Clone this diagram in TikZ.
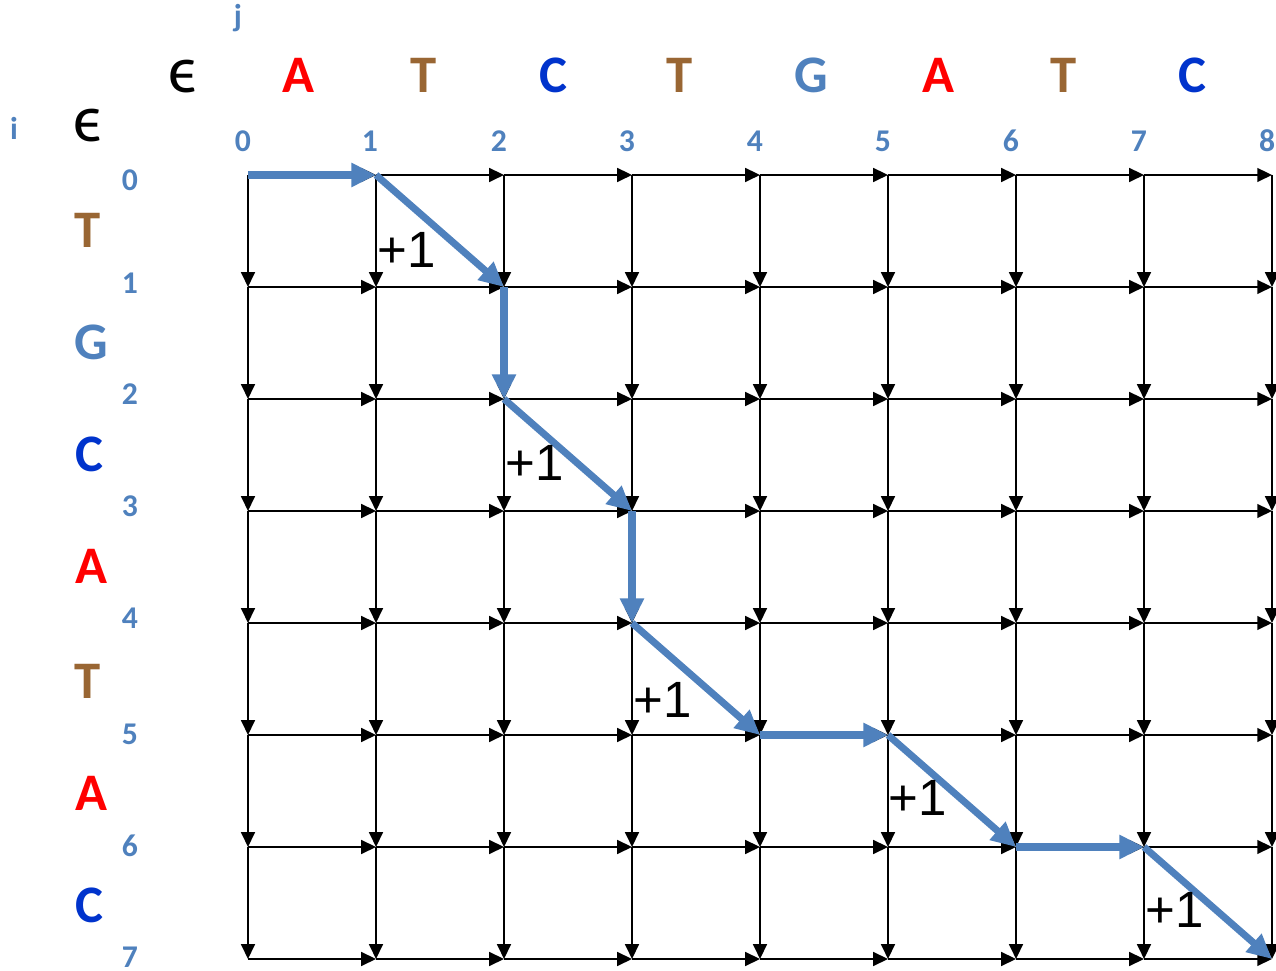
\documentclass[tikz,border=0pt]{standalone}
\usepackage{fontspec}
\setmainfont{Carlito}
\newfontfamily\arialf{Liberation Sans}
\usetikzlibrary{arrows.meta}
\definecolor{nucA}{HTML}{FF0000}
\definecolor{nucT}{HTML}{996633}
\definecolor{nucC}{HTML}{0033CC}
\definecolor{nucG}{HTML}{4F81BD}
\definecolor{idx}{HTML}{4F81BD}
\definecolor{pathblue}{HTML}{4F81BD}
\begin{document}
\begin{tikzpicture}[x=0.01cm,y=-0.01cm,
 base/.style={inner sep=0pt, outer sep=0pt},
 nuc/.style={base, font=\fontsize{15}{15}\selectfont\bfseries},
 idxlab/.style={base, text=idx, font=\fontsize{9}{9}\selectfont\bfseries},
 epslab/.style={base, font=\fontsize{19}{19}\selectfont},
 gain/.style={base, font=\fontsize{14.5}{14.5}\selectfont},
 edge/.style={line width=0.65pt, -{Triangle[length=4.2pt,width=3.9pt]}},
 pathedge/.style={line width=2pt, pathblue, -{Triangle[length=7pt,width=6.5pt]}}]
\useasboundingbox (0,0) rectangle (1276,971);
% grid points
\foreach \j in {0,...,8}{
  \foreach \i in {0,...,7}{
    \coordinate (p\j-\i) at ({248+128*\j},{175+112*\i});
  }
}
% horizontal edges
\foreach \j in {0,...,7}{
  \foreach \i in {0,...,7}{
    \pgfmathtruncatemacro\jn{\j+1}
    \draw[edge] (p\j-\i) -- (p\jn-\i);
  }
}
% vertical edges
\foreach \j in {0,...,8}{
  \foreach \i in {0,...,6}{
    \pgfmathtruncatemacro\inx{\i+1}
    \draw[edge] (p\j-\i) -- (p\j-\inx);
  }
}
% labels
\node[idxlab] (jlab) at (238,18) {j};
\node[idxlab] (ilab) at (14,128) {i};
\node[epslab] (epstop) at (183,77) {ϵ};
\node[epslab] (epsleft) at (88,126) {ϵ};
% top sequence
\node[nuc,text=nucA] (c1) at (298,75) {A};
\node[nuc,text=nucT] (c2) at (424,75) {T};
\node[nuc,text=nucC] (c3) at (553,75) {C};
\node[nuc,text=nucT] (c4) at (680,75) {T};
\node[nuc,text=nucG] (c5) at (811,75) {G};
\node[nuc,text=nucA] (c6) at (938,75) {A};
\node[nuc,text=nucT] (c7) at (1064,75) {T};
\node[nuc,text=nucC] (c8) at (1192,75) {C};
% left sequence
\node[nuc,text=nucT] (r1) at (88,230) {T};
\node[nuc,text=nucG] (r2) at (91,342) {G};
\node[nuc,text=nucC] (r3) at (89,454) {C};
\node[nuc,text=nucA] (r4) at (91,566) {A};
\node[nuc,text=nucT] (r5) at (88,681) {T};
\node[nuc,text=nucA] (r6) at (91,793) {A};
\node[nuc,text=nucC] (r7) at (89,905) {C};
% column indices
\foreach \k/\xx in {0/243,1/370,2/499,3/627,4/755,5/883,6/1011,7/1139,8/1267}{
  \node[idxlab] (col\k) at (\xx,141) {\k};
}
% row indices
\foreach \k/\yy in {0/180,1/283,2/394,3/506,4/618,5/734,6/846,7/957}{
  \node[idxlab] (row\k) at (130,\yy) {\k};
}
% path
\draw[pathedge] (p0-0) -- (p1-0);
\draw[pathedge] (p1-0) -- (p2-1);
\draw[pathedge] (p2-1) -- (p2-2);
\draw[pathedge] (p2-2) -- (p3-3);
\draw[pathedge] (p3-3) -- (p3-4);
\draw[pathedge] (p3-4) -- (p4-5);
\draw[pathedge] (p4-5) -- (p5-5);
\draw[pathedge] (p5-5) -- (p6-6);
\draw[pathedge] (p6-6) -- (p7-6);
\draw[pathedge] (p7-6) -- (p8-7);
% gains
\node[gain] (g1) at (407,250) {\arialf +1};
\node[gain] (g2) at (535,463) {\arialf +1};
\node[gain] (g3) at (663,700) {\arialf +1};
\node[gain] (g4) at (918,798) {\arialf +1};
\node[gain] (g5) at (1175,910) {\arialf +1};
\end{tikzpicture}
\end{document}
